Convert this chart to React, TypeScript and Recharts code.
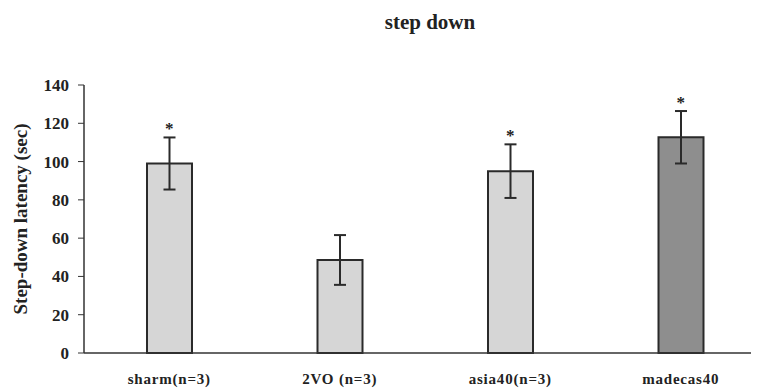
import React from "react";
import {
  BarChart,
  Bar,
  XAxis,
  YAxis,
  ErrorBar,
  Cell,
  ReferenceDot,
} from "recharts";

const groups = ["sharm(n=3)", "2VO (n=3)", "asia40(n=3)", "madecas40"];
const latency = [99, 48.6, 95, 112.7];
const sem = [13.6, 13, 14, 13.7];
const significant = [true, false, true, true];
const yTicks = [0, 20, 40, 60, 80, 100, 120, 140];

const data = groups.map((g, i) => ({
  group: g,
  latency: latency[i],
  sem: sem[i],
  top: latency[i] + sem[i],
}));

const FONT = "'Liberation Serif', 'Times New Roman', serif";

export default function App() {
  return (
    <div style={{ position: "relative", width: 770, height: 390, margin: "-8px 0 0 -8px", fontFamily: FONT }}>
      <div
        style={{
          position: "absolute",
          left: 330,
          width: 200,
          top: 10,
          textAlign: "center",
          fontSize: 21,
          fontWeight: "bold",
          color: "#222",
        }}
      >
        step down
      </div>
      <BarChart
        width={770}
        height={390}
        data={data}
        margin={{ top: 85, right: 4, bottom: 7, left: 0 }}
      >
        <XAxis
          dataKey="group"
          height={30}
          axisLine={{ stroke: "#333", strokeWidth: 1.5 }}
          tickLine={false}
          tick={{ fontSize: 15, fill: "#222", fontFamily: FONT, fontWeight: "bold", letterSpacing: 0.8 }}
          tickMargin={14}
        />
        <YAxis
          domain={[0, 140]}
          ticks={yTicks}
          width={84}
          axisLine={{ stroke: "#333", strokeWidth: 1.5 }}
          tickLine={{ stroke: "#333" }}
          tickSize={6}
          tickMargin={9}
          tick={{ fontSize: 17, fill: "#222", fontFamily: FONT, fontWeight: "bold" }}
          label={{
            value: "Step-down latency (sec)",
            angle: -90,
            position: "insideLeft",
            offset: 20,
            style: { textAnchor: "middle", fontSize: 19, fontWeight: "bold", fill: "#222", fontFamily: FONT },
          }}
        />
        <Bar
          dataKey="latency"
          barSize={45}
          stroke="#2a2a2a"
          strokeWidth={2}
          isAnimationActive={false}
        >
          {data.map((d, i) => (
            <Cell key={d.group} fill={i === 3 ? "#8e8e8e" : "#d6d6d6"} />
          ))}
          <ErrorBar dataKey="sem" width={6} stroke="#2a2a2a" strokeWidth={2} direction="y" />
        </Bar>
        {data.map((d, i) =>
          significant[i] ? (
            <ReferenceDot
              key={d.group}
              x={d.group}
              y={d.top}
              r={0}
              stroke="none"
              label={{ value: "*", position: "top", offset: 3, fontSize: 17, fontWeight: "bold", fill: "#222", fontFamily: FONT }}
            />
          ) : null
        )}
      </BarChart>
    </div>
  );
}
